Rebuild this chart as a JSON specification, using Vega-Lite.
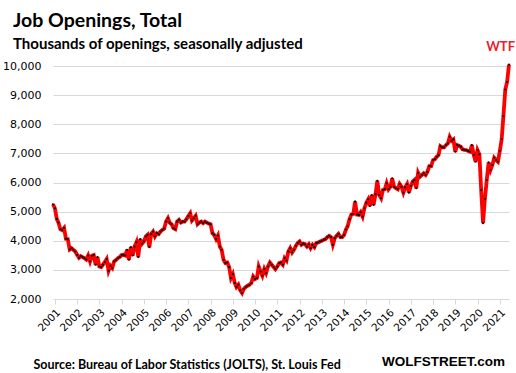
{
  "$schema": "https://vega.github.io/schema/vega-lite/v6.json",
  "width": 456,
  "height": 233,
  "autosize": {"type": "none"},
  "padding": {"left": 53, "top": 66, "right": 7, "bottom": 74},
  "background": "white",
  "title": {
    "text": "Job Openings, Total",
    "subtitle": "Thousands of openings, seasonally adjusted",
    "anchor": "start",
    "frame": "group",
    "dx": -40,
    "dy": 30,
    "offset": 18,
    "font": "Lato",
    "fontSize": 19.5,
    "fontWeight": "bold",
    "color": "black",
    "subtitleFont": "Lato",
    "subtitleFontSize": 15,
    "subtitleFontWeight": "bold",
    "subtitleColor": "black",
    "subtitlePadding": 5
  },
  "data": {
    "values": [
      {"date": "2000-12", "v": 5253},
      {"date": "2001-01", "v": 5116}, {"date": "2001-02", "v": 4750}, {"date": "2001-03", "v": 4623}, {"date": "2001-04", "v": 4397}, {"date": "2001-05", "v": 4363}, {"date": "2001-06", "v": 4442}, {"date": "2001-07", "v": 4065}, {"date": "2001-08", "v": 4055}, {"date": "2001-09", "v": 3700}, {"date": "2001-10", "v": 3746}, {"date": "2001-11", "v": 3688}, {"date": "2001-12", "v": 3630},
      {"date": "2002-01", "v": 3520}, {"date": "2002-02", "v": 3414}, {"date": "2002-03", "v": 3472}, {"date": "2002-04", "v": 3438}, {"date": "2002-05", "v": 3404}, {"date": "2002-06", "v": 3356}, {"date": "2002-07", "v": 3493}, {"date": "2002-08", "v": 3288}, {"date": "2002-09", "v": 3483}, {"date": "2002-10", "v": 3507}, {"date": "2002-11", "v": 3175}, {"date": "2002-12", "v": 3438},
      {"date": "2003-01", "v": 3116}, {"date": "2003-02", "v": 3096}, {"date": "2003-03", "v": 3180}, {"date": "2003-04", "v": 3267}, {"date": "2003-05", "v": 3370}, {"date": "2003-06", "v": 2969}, {"date": "2003-07", "v": 3140}, {"date": "2003-08", "v": 3062}, {"date": "2003-09", "v": 3288}, {"date": "2003-10", "v": 3336}, {"date": "2003-11", "v": 3400}, {"date": "2003-12", "v": 3438},
      {"date": "2004-01", "v": 3507}, {"date": "2004-02", "v": 3517}, {"date": "2004-03", "v": 3493}, {"date": "2004-04", "v": 3688}, {"date": "2004-05", "v": 3346}, {"date": "2004-06", "v": 3781}, {"date": "2004-07", "v": 3493}, {"date": "2004-08", "v": 3801}, {"date": "2004-09", "v": 3952}, {"date": "2004-10", "v": 3438}, {"date": "2004-11", "v": 4055}, {"date": "2004-12", "v": 3894},
      {"date": "2005-01", "v": 3973}, {"date": "2005-02", "v": 4144}, {"date": "2005-03", "v": 4202}, {"date": "2005-04", "v": 3781}, {"date": "2005-05", "v": 4236}, {"date": "2005-06", "v": 4315}, {"date": "2005-07", "v": 4144}, {"date": "2005-08", "v": 4260}, {"date": "2005-09", "v": 4226}, {"date": "2005-10", "v": 4315}, {"date": "2005-11", "v": 4373}, {"date": "2005-12", "v": 4420},
      {"date": "2006-01", "v": 4658}, {"date": "2006-02", "v": 4774}, {"date": "2006-03", "v": 4623}, {"date": "2006-04", "v": 4568}, {"date": "2006-05", "v": 4432}, {"date": "2006-06", "v": 4397}, {"date": "2006-07", "v": 4658}, {"date": "2006-08", "v": 4716}, {"date": "2006-09", "v": 4623}, {"date": "2006-10", "v": 4658}, {"date": "2006-11", "v": 4658}, {"date": "2006-12", "v": 4740},
      {"date": "2007-01", "v": 4850}, {"date": "2007-02", "v": 4945}, {"date": "2007-03", "v": 4692}, {"date": "2007-04", "v": 4774}, {"date": "2007-05", "v": 4853}, {"date": "2007-06", "v": 4568}, {"date": "2007-07", "v": 4623}, {"date": "2007-08", "v": 4658}, {"date": "2007-09", "v": 4603}, {"date": "2007-10", "v": 4658}, {"date": "2007-11", "v": 4623}, {"date": "2007-12", "v": 4590},
      {"date": "2008-01", "v": 4568}, {"date": "2008-02", "v": 4260}, {"date": "2008-03", "v": 4202}, {"date": "2008-04", "v": 4055}, {"date": "2008-05", "v": 4178}, {"date": "2008-06", "v": 3801}, {"date": "2008-07", "v": 3688}, {"date": "2008-08", "v": 3346}, {"date": "2008-09", "v": 3233}, {"date": "2008-10", "v": 3253}, {"date": "2008-11", "v": 3096}, {"date": "2008-12", "v": 2719},
      {"date": "2009-01", "v": 2856}, {"date": "2009-02", "v": 2548}, {"date": "2009-03", "v": 2411}, {"date": "2009-04", "v": 2490}, {"date": "2009-05", "v": 2300}, {"date": "2009-06", "v": 2205}, {"date": "2009-07", "v": 2350}, {"date": "2009-08", "v": 2411}, {"date": "2009-09", "v": 2456}, {"date": "2009-10", "v": 2490}, {"date": "2009-11", "v": 2548}, {"date": "2009-12", "v": 2774},
      {"date": "2010-01", "v": 2685}, {"date": "2010-02", "v": 2719}, {"date": "2010-03", "v": 3116}, {"date": "2010-04", "v": 2945}, {"date": "2010-05", "v": 2798}, {"date": "2010-06", "v": 3027}, {"date": "2010-07", "v": 2890}, {"date": "2010-08", "v": 3116}, {"date": "2010-09", "v": 3253}, {"date": "2010-10", "v": 3175}, {"date": "2010-11", "v": 3100}, {"date": "2010-12", "v": 3027},
      {"date": "2011-01", "v": 3116}, {"date": "2011-02", "v": 3233}, {"date": "2011-03", "v": 3253}, {"date": "2011-04", "v": 3175}, {"date": "2011-05", "v": 3404}, {"date": "2011-06", "v": 3322}, {"date": "2011-07", "v": 3630}, {"date": "2011-08", "v": 3746}, {"date": "2011-09", "v": 3596}, {"date": "2011-10", "v": 3688}, {"date": "2011-11", "v": 3825}, {"date": "2011-12", "v": 3918},
      {"date": "2012-01", "v": 3973}, {"date": "2012-02", "v": 3860}, {"date": "2012-03", "v": 3900}, {"date": "2012-04", "v": 3880}, {"date": "2012-05", "v": 3800}, {"date": "2012-06", "v": 3880}, {"date": "2012-07", "v": 3746}, {"date": "2012-08", "v": 3860}, {"date": "2012-09", "v": 3781}, {"date": "2012-10", "v": 3918}, {"date": "2012-11", "v": 3940}, {"date": "2012-12", "v": 3973},
      {"date": "2013-01", "v": 4000}, {"date": "2013-02", "v": 4031}, {"date": "2013-03", "v": 4055}, {"date": "2013-04", "v": 4123}, {"date": "2013-05", "v": 4168}, {"date": "2013-06", "v": 4123}, {"date": "2013-07", "v": 3860}, {"date": "2013-08", "v": 4089}, {"date": "2013-09", "v": 4168}, {"date": "2013-10", "v": 4236}, {"date": "2013-11", "v": 4123}, {"date": "2013-12", "v": 4123},
      {"date": "2014-01", "v": 4200}, {"date": "2014-02", "v": 4385}, {"date": "2014-03", "v": 4500}, {"date": "2014-04", "v": 4740}, {"date": "2014-05", "v": 4900}, {"date": "2014-06", "v": 4920}, {"date": "2014-07", "v": 5350}, {"date": "2014-08", "v": 4900}, {"date": "2014-09", "v": 4887}, {"date": "2014-10", "v": 4980}, {"date": "2014-11", "v": 4829}, {"date": "2014-12", "v": 5116},
      {"date": "2015-01", "v": 5308}, {"date": "2015-02", "v": 5425}, {"date": "2015-03", "v": 5195}, {"date": "2015-04", "v": 5572}, {"date": "2015-05", "v": 5229}, {"date": "2015-06", "v": 5600}, {"date": "2015-07", "v": 6062}, {"date": "2015-08", "v": 5572}, {"date": "2015-09", "v": 5459}, {"date": "2015-10", "v": 5743}, {"date": "2015-11", "v": 5767}, {"date": "2015-12", "v": 5973},
      {"date": "2016-01", "v": 5767}, {"date": "2016-02", "v": 5856}, {"date": "2016-03", "v": 6144}, {"date": "2016-04", "v": 5856}, {"date": "2016-05", "v": 5801}, {"date": "2016-06", "v": 5767}, {"date": "2016-07", "v": 5949}, {"date": "2016-08", "v": 5856}, {"date": "2016-09", "v": 5651}, {"date": "2016-10", "v": 5836}, {"date": "2016-11", "v": 5949}, {"date": "2016-12", "v": 5651},
      {"date": "2017-01", "v": 5880}, {"date": "2017-02", "v": 6028}, {"date": "2017-03", "v": 6086}, {"date": "2017-04", "v": 5801}, {"date": "2017-05", "v": 6336}, {"date": "2017-06", "v": 6199}, {"date": "2017-07", "v": 6257}, {"date": "2017-08", "v": 6315}, {"date": "2017-09", "v": 6257}, {"date": "2017-10", "v": 6370}, {"date": "2017-11", "v": 6565}, {"date": "2017-12", "v": 6565},
      {"date": "2018-01", "v": 6771}, {"date": "2018-02", "v": 6800}, {"date": "2018-03", "v": 6880}, {"date": "2018-04", "v": 6942}, {"date": "2018-05", "v": 7250}, {"date": "2018-06", "v": 7205}, {"date": "2018-07", "v": 7205}, {"date": "2018-08", "v": 7284}, {"date": "2018-09", "v": 7342}, {"date": "2018-10", "v": 7568}, {"date": "2018-11", "v": 7432}, {"date": "2018-12", "v": 7479},
      {"date": "2019-01", "v": 7055}, {"date": "2019-02", "v": 7284}, {"date": "2019-03", "v": 7260}, {"date": "2019-04", "v": 7226}, {"date": "2019-05", "v": 7137}, {"date": "2019-06", "v": 7120}, {"date": "2019-07", "v": 7113}, {"date": "2019-08", "v": 7079}, {"date": "2019-09", "v": 7055}, {"date": "2019-10", "v": 7284}, {"date": "2019-11", "v": 6942}, {"date": "2019-12", "v": 6712},
      {"date": "2020-01", "v": 7113}, {"date": "2020-02", "v": 6966}, {"date": "2020-03", "v": 5743}, {"date": "2020-04", "v": 4603}, {"date": "2020-05", "v": 5435}, {"date": "2020-06", "v": 6086}, {"date": "2020-07", "v": 6692}, {"date": "2020-08", "v": 6428}, {"date": "2020-09", "v": 6600}, {"date": "2020-10", "v": 6849}, {"date": "2020-11", "v": 6770}, {"date": "2020-12", "v": 6712},
      {"date": "2021-01", "v": 7079}, {"date": "2021-02", "v": 7490}, {"date": "2021-03", "v": 8277}, {"date": "2021-04", "v": 9192}, {"date": "2021-05", "v": 9452}, {"date": "2021-06", "v": 10048}
    ]
  },
  "encoding": {
    "x": {
      "field": "date",
      "type": "temporal",
      "scale": {"type": "utc", "domain": [{"year": 2000, "month": 12, "date": 1, "utc": true}, {"year": 2021, "month": 6, "date": 1, "utc": true}]},
      "axis": {
        "format": "%Y",
        "tickCount": {"interval": "year", "step": 1},
        "labelAngle": -45,
        "labelFont": "DejaVu Sans",
        "labelFontSize": 10.5,
        "labelColor": "black",
        "labelPadding": 3,
        "labelOverlap": false,
        "grid": false,
        "domainColor": "#d9d9d9",
        "tickColor": "#d9d9d9",
        "tickSize": 5,
        "title": "Source: Bureau of Labor Statistics (JOLTS), St. Louis Fed",
        "titleAnchor": "start",
        "titleAlign": "left",
        "titleBaseline": "alphabetic",
        "titleX": -20,
        "titleY": 69,
        "titleFont": "Lato",
        "titleFontSize": 12.5,
        "titleFontWeight": "bold",
        "titleColor": "black"
      }
    },
    "y": {
      "field": "v",
      "type": "quantitative",
      "scale": {"domain": [2000, 10000], "nice": false, "zero": false},
      "axis": {
        "values": [2000, 3000, 4000, 5000, 6000, 7000, 8000, 9000, 10000],
        "tickCount": 9,
        "format": ",d",
        "labelOverlap": false,
        "domain": false,
        "ticks": false,
        "labelFont": "DejaVu Sans",
        "labelFontSize": 11,
        "labelColor": "black",
        "labelPadding": 12,
        "gridColor": "#d9d9d9",
        "gridWidth": 1,
        "title": null
      }
    }
  },
  "layer": [
    {
      "mark": {"type": "line", "color": "#ff0000", "strokeWidth": 3.8, "clip": false}
    },
    {
      "mark": {"type": "circle", "color": "black", "size": 4.5, "opacity": 1, "clip": false}
    },
    {
      "transform": [{"filter": "datum.v == 10048"}],
      "mark": {"type": "text", "text": "WTF", "align": "right", "baseline": "alphabetic", "dx": 6, "dy": -14, "font": "Lato", "fontSize": 13, "fontWeight": "bold", "color": "#ee1c2e"}
    },
    {
      "transform": [{"filter": "datum.v == 10048"}],
      "mark": {"type": "text", "text": "WOLFSTREET.com", "align": "right", "baseline": "alphabetic", "dx": -4, "dy": 67, "font": "Liberation Sans", "fontSize": 13.5, "fontWeight": "bold", "color": "black"},
      "encoding": {
        "y": {"datum": 2000, "type": "quantitative"}
      }
    }
  ],
  "config": {"view": {"stroke": null}}
}
